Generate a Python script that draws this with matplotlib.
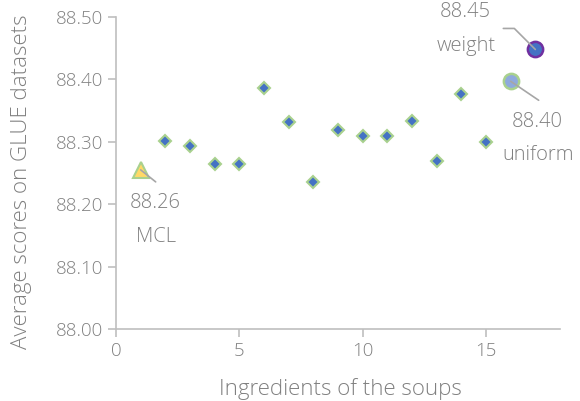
import matplotlib
matplotlib.use("Agg")
import matplotlib.pyplot as plt

plt.rcParams['font.family'] = ['Open Sans', 'DejaVu Sans']

# soup ingredients 2..15
ingredientes = [2, 3, 4, 5, 6, 7, 8, 9, 10, 11, 12, 13, 14, 15]
scores = [88.302, 88.293, 88.264, 88.264, 88.387, 88.332, 88.236,
          88.319, 88.310, 88.310, 88.334, 88.269, 88.376, 88.299]

# special points
mcl_x, mcl_y = 1, 88.255
uniform_x, uniform_y = 16, 88.397
weight_x, weight_y = 17, 88.448

mcl_label = "88.26"
uniform_label = "88.40"
weight_label = "88.45"

cinza = '#808080'
linha = '#a6a6a6'
eixo = '#bfbfbf'

fig = plt.figure(figsize=(5.8, 4.01), dpi=100)
ax = fig.add_axes([0.2, 0.1796, 0.7655, 0.778])

ax.plot(ingredientes, scores, linestyle='none', marker='D', markersize=6,
        markerfacecolor='#4472C4', markeredgecolor='#A9D18E', markeredgewidth=1.5, zorder=3)
ax.plot([mcl_x], [mcl_y], linestyle='none', marker='^', markersize=12,
        markerfacecolor='#FFD966', markeredgecolor='#A9D18E', markeredgewidth=1.5, zorder=3)
ax.plot([uniform_x], [uniform_y], linestyle='none', marker='o', markersize=11,
        markerfacecolor='#8FAADC', markeredgecolor='#A9D18E', markeredgewidth=1.8, zorder=3)
ax.plot([weight_x], [weight_y], linestyle='none', marker='o', markersize=11,
        markerfacecolor='#4472C4', markeredgecolor='#7030A0', markeredgewidth=1.8, zorder=3)

# leader lines
seta = dict(arrowstyle='-', color=linha, lw=1.2, shrinkA=0, shrinkB=0)
ax.annotate('', xy=(mcl_x, mcl_y), xytext=(15, -12), textcoords='offset pixels',
            arrowprops=seta, zorder=4)
ax.annotate('', xy=(uniform_x, uniform_y), xytext=(28, -19), textcoords='offset pixels',
            arrowprops=seta, zorder=4)
ax.annotate('', xy=(weight_x, weight_y), xytext=(-32, 21), textcoords='offset pixels',
            arrowprops=dict(seta, connectionstyle='angle,angleA=0,angleB=-45,rad=0'), zorder=4)

# labels
fs = 14.5
def rotulo(x, y, txt, dx, dy):
    ax.annotate(txt, xy=(x, y), xytext=(dx, dy), textcoords='offset pixels',
                ha='center', va='center', fontsize=fs, color=cinza, fontweight='light')

rotulo(mcl_x, mcl_y, mcl_label, 15, -33)
rotulo(mcl_x, mcl_y, "MCL", 15, -67)
rotulo(uniform_x, uniform_y, uniform_label, 27, -41)
rotulo(uniform_x, uniform_y, "uniform", 28, -74)
rotulo(weight_x, weight_y, weight_label, -70, 37)
rotulo(weight_x, weight_y, "weight", -69, 3)

ax.set_xlim(0, 18)
ax.set_ylim(88.0, 88.5)
ax.set_xticks([0, 5, 10, 15])
ax.set_yticks([88.0, 88.1, 88.2, 88.3, 88.4, 88.5])
ax.set_yticklabels(["%.2f" % v for v in ax.get_yticks()])

for s in ['top', 'right']:
    ax.spines[s].set_visible(False)
for s in ['left', 'bottom']:
    ax.spines[s].set_color(eixo)
    ax.spines[s].set_linewidth(1.2)
ax.tick_params(colors=eixo, labelcolor=cinza, labelsize=13.5, length=6, width=1.2)
for t in ax.get_xticklabels() + ax.get_yticklabels():
    t.set_fontweight('light')

ax.set_xlabel("Ingredients of the soups", fontsize=16, color=cinza, fontweight='light')
ax.set_ylabel("Average scores on GLUE datasets", fontsize=16, color=cinza, fontweight='light')
ax.xaxis.set_label_coords(0.505, -0.158)
ax.yaxis.set_label_coords(-0.189, 0.473)

fig.savefig("out.png", dpi=100)
